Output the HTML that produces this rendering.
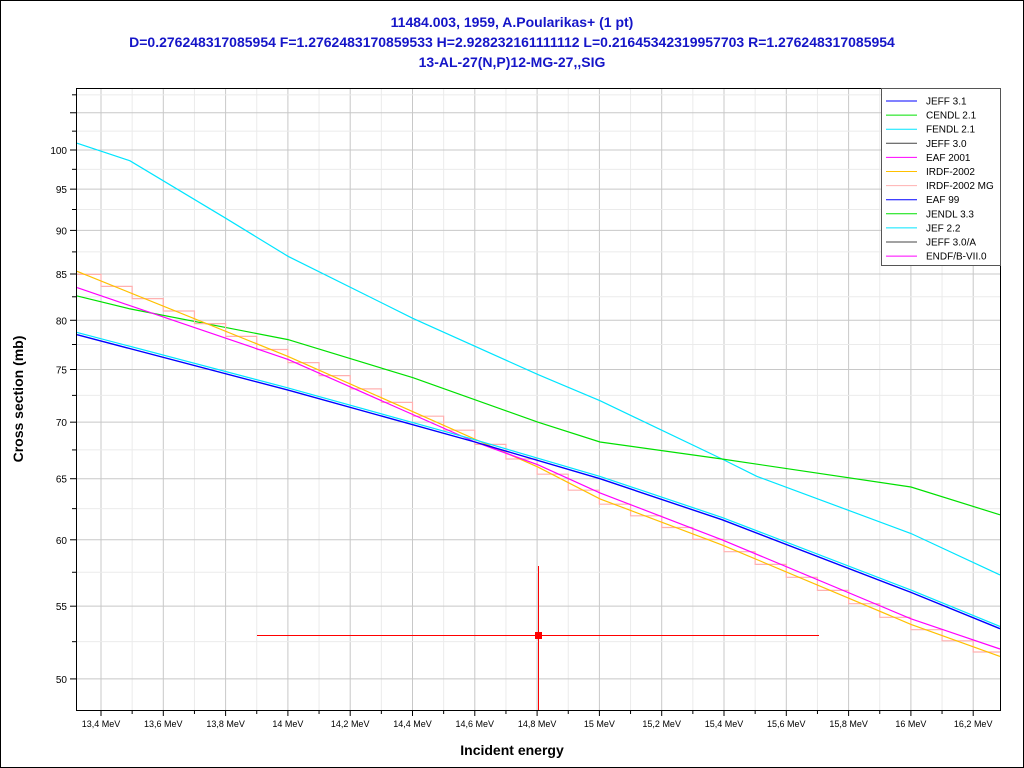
<!DOCTYPE html>
<html><head><meta charset="utf-8"><style>
body{margin:0;background:#fff}
svg{display:block;font-family:"Liberation Sans",sans-serif}
</style></head><body>
<svg id="s" width="1024" height="768" xmlns="http://www.w3.org/2000/svg">
<rect x="0.5" y="0.5" width="1023" height="767" fill="#fff" stroke="#000"/>
<g font-weight="bold" fill="#1515c8" font-size="14" text-anchor="middle">
<text x="512" y="27">11484.003, 1959, A.Poularikas+ (1 pt)</text>
<text x="512" y="47">D=0.276248317085954 F=1.2762483170859533 H=2.928232161111112 L=0.21645342319957703 R=1.276248317085954</text>
<text x="512" y="67">13-AL-27(N,P)12-MG-27,,SIG</text>
</g>
<g id="grid"></g>
<g id="curves" fill="none"></g>
<rect x="76.5" y="88.5" width="924" height="622" fill="none" stroke="#000"/>
<g id="ticks"></g>
<text x="512" y="755" text-anchor="middle" font-weight="bold" font-size="14">Incident energy</text>
<text transform="translate(23,399) rotate(-90)" text-anchor="middle" font-weight="bold" font-size="14">Cross section (mb)</text>
<g id="err">
<rect x="257" y="635" width="562" height="1" fill="#f00"/>
<rect x="538" y="566" width="1" height="144" fill="#f00"/>
<rect x="535" y="632" width="7" height="7" fill="#f00"/>
</g>
<rect x="881.5" y="88.5" width="119" height="177" fill="#fff" stroke="#555"/>
<g id="leg" font-size="10"></g>
</svg>
<script>
const NS="http://www.w3.org/2000/svg";
function el(p,t,a,txt){const e=document.createElementNS(NS,t);for(const k in a)e.setAttribute(k,a[k]);if(txt)e.textContent=txt;document.getElementById(p).appendChild(e);return e;}
const Y=v=>150-(Math.log10(v)-2)*1757;
const X=E=>101+(E-13.4)/0.2*62.3;
for(let k=-1;k<30;k++){const E=13.4+k*0.1;const x=X(E);if(x<77||x>999)continue;
 el("grid","line",{x1:x,y1:89,x2:x,y2:710,stroke:k%2==0?"#c8c8c8":"#ebebeb"});
 el("ticks","line",{x1:x,y1:710,x2:x,y2:k%2==0?716:714,stroke:"#000"});
 if(k%2==0){let lab=(Math.round(E*10)/10).toString().replace(".",",")+" MeV";el("ticks","text",{x:x,y:727,"text-anchor":"middle","font-size":"9"},lab);}}
for(let v=47.5;v<=110;v+=2.5){const y=Y(v);if(y<89||y>709)continue;const maj=(v%5==0);
 el("grid","line",{x1:77,y1:y,x2:1000,y2:y,stroke:maj?"#c8c8c8":"#ebebeb"});
 el("ticks","line",{x1:maj?70:72,y1:y,x2:76,y2:y,stroke:"#000"});
 if(maj&&v<=100)el("ticks","text",{x:67,y:y+4,"text-anchor":"end","font-size":"10"},String(v));}
function interp(pts,x){for(let i=0;i<pts.length-1;i++){if(x<=pts[i+1][0]){const t=(x-pts[i][0])/(pts[i+1][0]-pts[i][0]);return pts[i][1]+t*(pts[i+1][1]-pts[i][1]);}}return pts[pts.length-1][1];}
function poly(pts,c,w){el("curves","polyline",{points:pts.map(p=>p[0]+","+Y(p[1]).toFixed(1)).join(" "),stroke:c,"stroke-width":w||1.2});}
const cyan=[[77,100.9],[130,98.6],[225,91.5],[288,87],[413,80.2],[538,74.5],[600,72],[722,66.7],[757,65.2],[911,60.5],[1000,57.3]];
const green=[[77,82.6],[130,81.2],[288,78],[413,74.2],[538,70],[600,68.2],[722,66.7],[911,64.3],[1000,62]];
const blue=[[77,78.5],[288,73],[475,68.2],[600,65],[722,61.6],[911,56],[1000,53.4]];
const mag=[[77,83.5],[288,76],[475,68.2],[538,66.2],[600,63.8],[722,60],[911,54.1],[1000,52]];
const orange=[[77,85.3],[288,76.3],[538,66.0],[600,63.3],[722,59.6],[911,53.7],[1000,51.5]];
poly(cyan,"#00e5ff");poly(green,"#00e000");
let st=[];let v=interp(orange,85);
st.push([77,v]);
for(let k=0;;k++){const bx=101+k*31.15;if(bx>1000)break;st.push([bx,v]);v=interp(orange,Math.min(bx+15,1000));st.push([bx,v]);}
st.push([1000,v]);poly(st,"#ffb0b0",1.2);
poly(orange,"#ffc000");poly(mag,"#ff00ff");
poly(blue.map(p=>[p[0],p[1]*1.003]),"#00e5ff",1.2);poly(blue,"#0000ff",1.4);
const L=[["JEFF 3.1","#0000ff"],["CENDL 2.1","#00e000"],["FENDL 2.1","#00e5ff"],["JEFF 3.0","#444"],["EAF 2001","#ff00ff"],["IRDF-2002","#ffc000"],["IRDF-2002 MG","#ffb0b0"],["EAF 99","#0000ff"],["JENDL 3.3","#00e000"],["JEF 2.2","#00e5ff"],["JEFF 3.0/A","#444"],["ENDF/B-VII.0","#ff00ff"]];
L.forEach((l,i)=>{const y=101+i*14.1;el("leg","line",{x1:886,y1:y,x2:917,y2:y,stroke:l[1]});el("leg","text",{x:926,y:y+3.5},l[0]);});
</script>
</body></html>
